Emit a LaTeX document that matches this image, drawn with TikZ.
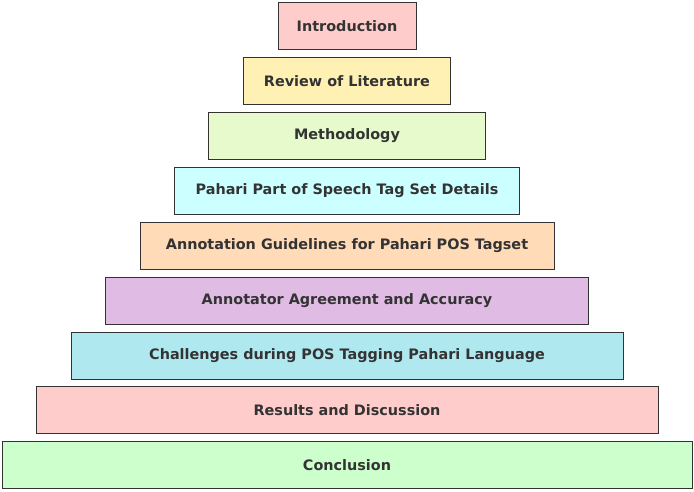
\documentclass[tikz,border=0pt]{standalone}
\usepackage{fontspec}
\setmainfont{DejaVu Sans}
\definecolor{introfill}{HTML}{FFCCCC}
\definecolor{reviewfill}{HTML}{FFF0B3}
\definecolor{methodfill}{HTML}{E6FACC}
\definecolor{tagsetfill}{HTML}{CCFFFF}
\definecolor{guidefill}{HTML}{FFDBB8}
\definecolor{agreefill}{HTML}{E0BBE4}
\definecolor{challengefill}{HTML}{B0E8F0}
\definecolor{resultfill}{HTML}{FFCCCC}
\definecolor{conclfill}{HTML}{CCFFCC}
\definecolor{edge}{HTML}{333333}
\begin{document}
\begin{tikzpicture}[
x=1pt, y=-1pt,
box/.style={
draw=edge,
line width=1pt,
align=center,
font=\bfseries\fontsize{14.4}{16}\selectfont,
text=edge,
inner sep=0pt,
minimum height=47pt
}
]
\useasboundingbox (0,0) rectangle (694,492);
\node[box, fill=introfill, minimum width=138pt] (intro) at (347,26.5) {Introduction};
\node[box, fill=reviewfill, minimum width=207pt] (review) at (347,81) {Review of Literature};
\node[box, fill=methodfill, minimum width=277pt] (method) at (347,136) {Methodology};
\node[box, fill=tagsetfill, minimum width=345pt] (tagset) at (347,191) {Pahari Part of Speech Tag Set Details};
\node[box, fill=guidefill, minimum width=414pt] (guide) at (347,246) {Annotation Guidelines for Pahari POS Tagset};
\node[box, fill=agreefill, minimum width=483pt] (agree) at (347,301) {Annotator Agreement and Accuracy};
\node[box, fill=challengefill, minimum width=552pt] (challenge) at (347,356) {Challenges during POS Tagging Pahari Language};
\node[box, fill=resultfill, minimum width=622pt] (result) at (347,410) {Results and Discussion};
\node[box, fill=conclfill, minimum width=690pt] (concl) at (347,465) {Conclusion};
\end{tikzpicture}
\end{document}
